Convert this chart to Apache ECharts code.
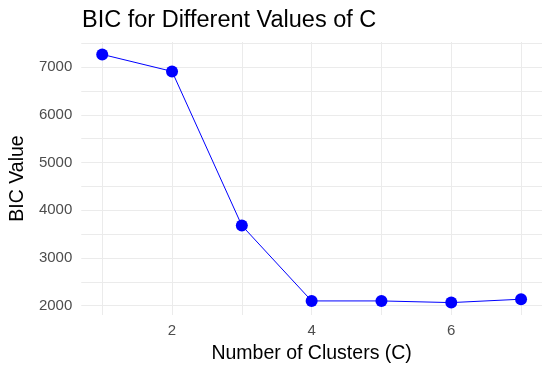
<!DOCTYPE html>
<html>
<head>
<meta charset="utf-8">
<script src="https://cdn.jsdelivr.net/npm/echarts@6/dist/echarts.min.js"></script>
<style>
  html, body { margin: 0; padding: 0; background: #fff; }
  #chart { width: 554px; height: 376px; }
</style>
</head>
<body>
<div id="chart"></div>
<script>
// 数据
var clusters = [1, 2, 3, 4, 5, 6, 7];
var bicValues = [7268, 6912, 3681, 2100, 2100, 2065, 2136];
var xTickLabels = [2, 4, 6];
var xGridValues = [1, 2, 3, 4, 5, 6, 7];
var yTickLabels = [2000, 3000, 4000, 5000, 6000, 7000];
var yGridValues = [2000, 2500, 3000, 3500, 4000, 4500, 5000, 5500, 6000, 6500, 7000, 7500];

var font = 'Liberation Sans, Arial, sans-serif';
var myChart = echarts.init(document.getElementById('chart'));

var points = [];
for (var i = 0; i < clusters.length; i++) {
    points.push([clusters[i], bicValues[i]]);
}

var option = {
    animation: false,
    backgroundColor: '#ffffff',
    title: {
        text: 'BIC for Different Values of C',
        left: 77,
        top: 4,
        textStyle: {
            fontFamily: font,
            fontSize: 23.5,
            fontWeight: 'normal',
            color: '#000000'
        }
    },
    grid: {
        left: 79,
        right: 12,
        top: 42,
        bottom: 61
    },
    xAxis: {
        type: 'value',
        min: 0.7,
        max: 7.3,
        name: 'Number of Clusters (C)',
        nameLocation: 'middle',
        nameGap: 29,
        nameTextStyle: { fontFamily: font, fontSize: 19.5, color: '#000000' },
        axisLine: { show: false },
        axisTick: { show: false, customValues: xGridValues },
        axisLabel: {
            customValues: xTickLabels,
            margin: 8,
            fontFamily: font,
            fontSize: 15,
            color: '#4d4d4d'
        },
        splitLine: { show: true, lineStyle: { color: '#ebebeb', width: 1 } }
    },
    yAxis: {
        type: 'value',
        min: 1805,
        max: 7528,
        name: 'BIC Value',
        nameLocation: 'middle',
        nameGap: 48,
        nameTextStyle: { fontFamily: font, fontSize: 19.5, color: '#000000' },
        axisLine: { show: false },
        axisTick: { show: false, customValues: yGridValues },
        axisLabel: {
            customValues: yTickLabels,
            margin: 9,
            fontFamily: font,
            fontSize: 15,
            color: '#4d4d4d',
            formatter: function (v) { return String(v); }
        },
        splitLine: { show: true, lineStyle: { color: '#ebebeb', width: 1 } }
    },
    series: [{
        name: 'BIC',
        type: 'line',
        data: points,
        symbol: 'circle',
        symbolSize: 12,
        lineStyle: { color: '#0000ff', width: 1 },
        itemStyle: { color: '#0000ff' }
    }]
};

myChart.setOption(option);
</script>
</body>
</html>
